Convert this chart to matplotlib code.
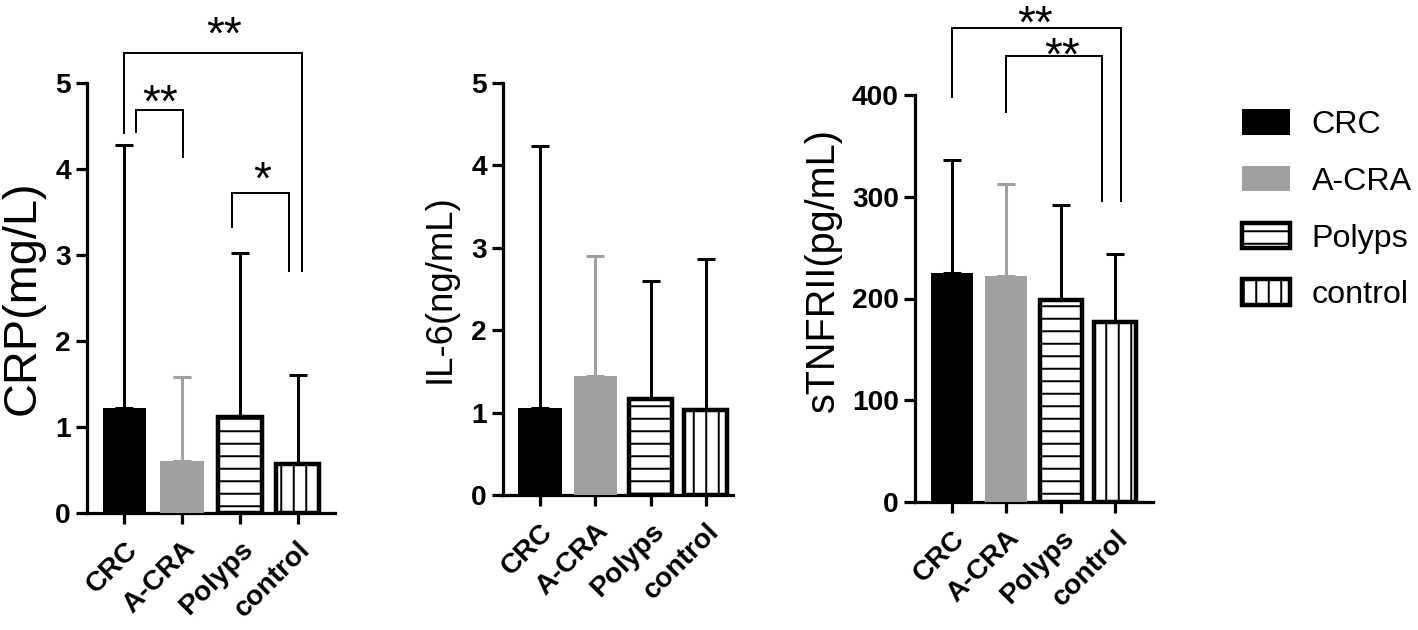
import matplotlib
matplotlib.use("Agg")
import matplotlib.pyplot as plt
from matplotlib.patches import Patch

# ---------------- data ----------------
groups = ["CRC", "A-CRA", "Polyps", "control"]

crp_mean = [1.22, 0.60, 1.12, 0.57]
crp_sd = [3.06, 0.98, 1.90, 1.03]

il6_mean = [1.05, 1.44, 1.17, 1.03]
il6_sd = [3.19, 1.46, 1.43, 1.84]

stnf_mean = [225, 222, 199, 177]
stnf_sd = [111, 91, 93, 67]

crp_ticks = [0, 1, 2, 3, 4, 5]
il6_ticks = [0, 1, 2, 3, 4, 5]
stnf_ticks = [0, 100, 200, 300, 400]

# significance brackets: (x1, x2, y_bar, y_left_end, y_right_end, label, text_x, text_y)
crp_sig = [
    (0.00, 3.07, 5.35, 4.42, 2.81, "**", 1.72, 5.71),
    (0.20, 1.01, 4.69, 4.43, 4.14, "**", 0.62, 4.92),
    (1.86, 2.85, 3.72, 3.33, 2.81, "*", 2.38, 4.02),
]
stnf_sig = [
    (0.00, 3.12, 466, 398, 296, "**", 1.53, 482),
    (0.99, 2.76, 438, 383, 296, "**", 2.02, 451),
]

# ---------------- style ----------------
DPI = 75
W, H = 1418, 630
plt.rcParams["font.family"] = ["Liberation Sans", "DejaVu Sans"]
plt.rcParams["hatch.linewidth"] = 1.9

GRAY = "#a0a0a0"
faces = ["black", GRAY, "white", "white"]
edges = ["black", GRAY, "black", "black"]
hatches = [None, None, "-", "|"]
edge_lw = [0, 0, 4.3, 4.3]
err_col = ["black", GRAY, "black", "black"]

SPINE_LW = 3.1
TICK_FS = 27
XTICK_FS = 27
STAR_FS = 44

fig = plt.figure(figsize=(W / DPI, H / DPI), dpi=DPI)


def fx(px):
    return px / W


def fy(py):
    return 1 - py / H


def make_axes(left, right, y0, ytop):
    return fig.add_axes([fx(left), fy(y0), fx(right) - fx(left), fy(ytop) - fy(y0)])


def draw_panel(ax, means, sds, ticks, ylim, xlim, width, ylabel, ylabel_size,
               label_right_px, label_y, left_px, right_px):
    x = list(range(len(groups)))
    for i in x:
        ax.bar(i, means[i], width=width, color=faces[i], edgecolor=edges[i],
               linewidth=edge_lw[i], hatch=hatches[i], zorder=3)
        ax.errorbar(i, means[i], yerr=[[0], [sds[i]]], fmt="none",
                    ecolor=err_col[i], elinewidth=2.9, capsize=8.5,
                    capthick=2.9, zorder=2)
    ax.set_xlim(*xlim)
    ax.set_ylim(*ylim)
    ax.set_yticks(ticks)
    ax.set_xticks(x)
    ax.set_xticklabels(groups, rotation=45, ha="right", rotation_mode="anchor",
                       fontsize=XTICK_FS, fontweight="bold")
    for lab in ax.get_yticklabels():
        lab.set_fontweight("bold")
        lab.set_fontsize(TICK_FS)
    for s in ["top", "right"]:
        ax.spines[s].set_visible(False)
    for s in ["left", "bottom"]:
        ax.spines[s].set_linewidth(SPINE_LW)
        ax.spines[s].set_capstyle("projecting")
    ax.tick_params(axis="both", width=SPINE_LW, length=10.5)
    ax.tick_params(axis="y", pad=5)
    ax.tick_params(axis="x", pad=12)
    ax.set_ylabel(ylabel, fontsize=ylabel_size)
    ax.yaxis.set_label_coords((label_right_px - left_px) / (right_px - left_px), label_y)


def draw_sig(ax, sig, fs=STAR_FS):
    for x1, x2, yb, yl, yr, txt, tx, ty in sig:
        ax.plot([x1, x1, x2, x2], [yl, yb, yb, yr], color="black", lw=1.9,
                clip_on=False, solid_joinstyle="miter", zorder=5)
        ax.annotate(txt, xy=(tx, ty), xytext=(0, -0.58 * fs),
                    textcoords="offset points", ha="center", va="baseline",
                    fontsize=fs, annotation_clip=False)


# panel 1: CRP
ax1 = make_axes(87, 335, 513, 83)
draw_panel(ax1, crp_mean, crp_sd, crp_ticks, (0, 5), (-0.65, 3.65), 0.76,
           "CRP(mg/L)", 45, 45, 0.5, 87, 335)
draw_sig(ax1, crp_sig)

# panel 2: IL-6
ax2 = make_axes(503, 733, 495, 83)
draw_panel(ax2, il6_mean, il6_sd, il6_ticks, (0, 5), (-0.67, 3.49), 0.78,
           "IL-6(ng/mL)", 35, 458, 0.5, 503, 733)

# panel 3: sTNFRII
ax3 = make_axes(915, 1153, 502, 95)
draw_panel(ax3, stnf_mean, stnf_sd, stnf_ticks, (0, 400), (-0.68, 3.70), 0.77,
           "sTNFRII(pg/mL)", 38, 842, 0.57, 915, 1153)
draw_sig(ax3, stnf_sig)

# legend
handles = [
    Patch(facecolor=faces[i], edgecolor=edges[i], linewidth=edge_lw[i],
          hatch=hatches[i])
    for i in range(len(groups))
]
fig.legend(handles, groups, loc="upper left", bbox_to_anchor=(fx(1242), fy(109)),
           frameon=False, fontsize=31, handlelength=1.5, handleheight=0.84,
           labelspacing=0.8, handletextpad=0.66, borderpad=0, borderaxespad=0)

fig.savefig("out.png", dpi=DPI)
